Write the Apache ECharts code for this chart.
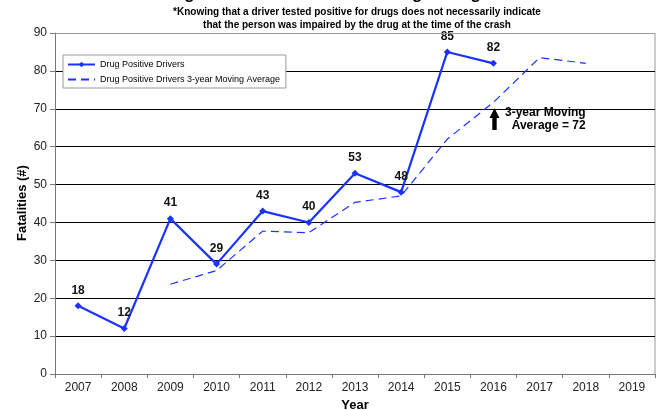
<!DOCTYPE html>
<html>
<head>
<meta charset="utf-8">
<script src="https://cdn.jsdelivr.net/npm/echarts@6/dist/echarts.min.js"></script>
<style>
    html, body { margin: 0; padding: 0; background: #fff; }
    #chart { width: 670px; height: 410px; }
</style>
</head>
<body>
<div id="chart"></div>
<script>
// data
const years = ['2007', '2008', '2009', '2010', '2011', '2012', '2013', '2014', '2015', '2016', '2017', '2018', '2019']
const drugPositive = [18, 12, 41, 29, 43, 40, 53, 48, 85, 82, null, null, null]
const movingAvg = [null, null, 23.7, 27.3, 37.7, 37.3, 45.3, 47, 62, 71.7, 83.5, 82, null]
const yTicks = [0, 10, 20, 30, 40, 50, 60, 70, 80, 90]

const blue = '#1a33ff'
const font = 'Liberation Sans, Arial, sans-serif'

let myChart = echarts.init(document.getElementById('chart'))
let option = {
    backgroundColor: '#fff',
    animation: false,
    textStyle: { fontFamily: font },
    title: [
        {
            text: 'Number of Drug Positive Fatalities Involving a Drug Positive Driver',
            left: 'center',
            top: -19,
            textStyle: { fontSize: 17, fontWeight: 'bold', color: '#000', fontFamily: font }
        },
        {
            text: '*Knowing that a driver tested positive for drugs does not necessarily indicate\nthat the person was impaired by the drug at the time of the crash',
            left: 352,
            top: 1,
            textAlign: 'center',
            textStyle: { fontSize: 10, fontWeight: 'bold', color: '#000', lineHeight: 13, fontFamily: font }
        }
    ],
    legend: {
        orient: 'vertical',
        left: 63,
        top: 55,
        padding: [5, 6, 4, 4],
        itemGap: 6,
        itemWidth: 27,
        itemHeight: 7,
        borderColor: '#999',
        borderWidth: 1,
        backgroundColor: '#fff',
        textStyle: { fontSize: 9, color: '#000', fontFamily: font },
        data: [
            { name: 'Drug Positive Drivers' },
            { name: 'Drug Positive Drivers 3-year Moving Average', itemStyle: { opacity: 0 } }
        ]
    },
    grid: { left: 55, right: 15, top: 33, bottom: 36, outerBoundsMode: 'none' },
    xAxis: {
        type: 'category',
        data: years,
        boundaryGap: true,
        name: 'Year',
        nameLocation: 'middle',
        nameGap: 23,
        nameTextStyle: { fontSize: 13, fontWeight: 'bold', color: '#000' },
        axisLine: { lineStyle: { color: '#777', width: 1 } },
        axisTick: { show: true, length: 4, lineStyle: { color: '#777' } },
        axisLabel: { fontSize: 12, color: '#222', margin: 8 },
        splitLine: { show: false }
    },
    yAxis: {
        type: 'value',
        min: yTicks[0],
        max: yTicks[yTicks.length - 1],
        interval: 10,
        axisLine: { show: true, lineStyle: { color: '#777', width: 1 } },
        axisTick: { show: true, length: 5, lineStyle: { color: '#777' } },
        axisLabel: { fontSize: 12, color: '#222', margin: 8 },
        splitLine: { show: true, lineStyle: { color: '#000', width: 1 } }
    },
    series: [
        {
            name: 'Drug Positive Drivers',
            type: 'line',
            data: drugPositive,
            symbol: 'diamond',
            symbolSize: 7,
            lineStyle: { color: blue, width: 2.2 },
            itemStyle: { color: blue },
            label: {
                show: true,
                position: 'top',
                distance: 6,
                fontSize: 12,
                fontWeight: 'bold',
                color: '#111'
            },
            z: 3
        },
        {
            name: 'Drug Positive Drivers 3-year Moving Average',
            type: 'line',
            data: movingAvg,
            symbol: 'none',
            showSymbol: false,
            lineStyle: { color: blue, width: 1.2, type: [8, 5] },
            itemStyle: { color: blue },
            z: 2
        },
        {
            // plot frame on top
            type: 'line',
            data: [],
            markLine: {
                silent: true,
                symbol: 'none',
                label: { show: false },
                lineStyle: { color: '#999', width: 1, type: 'solid' },
                data: [{ yAxis: 90 }]
            }
        }
    ],
    graphic: [
        {
            type: 'line',
            shape: { x1: 655, y1: 33, x2: 655, y2: 374 },
            style: { stroke: '#999', lineWidth: 1 }
        },
        {
            // y axis title
            type: 'text',
            x: 22,
            y: 203,
            rotation: Math.PI / 2,
            style: {
                text: 'Fatalities (#)',
                fontSize: 13,
                fontWeight: 'bold',
                fill: '#000',
                align: 'center',
                verticalAlign: 'middle',
                fontFamily: font
            }
        },
        {
            type: 'polygon',
            shape: { points: [[489.5, 118], [494.5, 108], [499.5, 118], [496.7, 118], [496.7, 130], [492.3, 130], [492.3, 118]] },
            style: { fill: '#000' }
        },
        {
            type: 'text',
            left: 505,
            top: 106,
            style: {
                text: '3-year Moving\n  Average = 72',
                fontSize: 12,
                fontWeight: 'bold',
                fill: '#000',
                lineHeight: 13,
                fontFamily: font
            }
        }
    ]
}
myChart.setOption(option)
window.addEventListener('resize', () => { myChart.resize() })
</script>
</body>
</html>
